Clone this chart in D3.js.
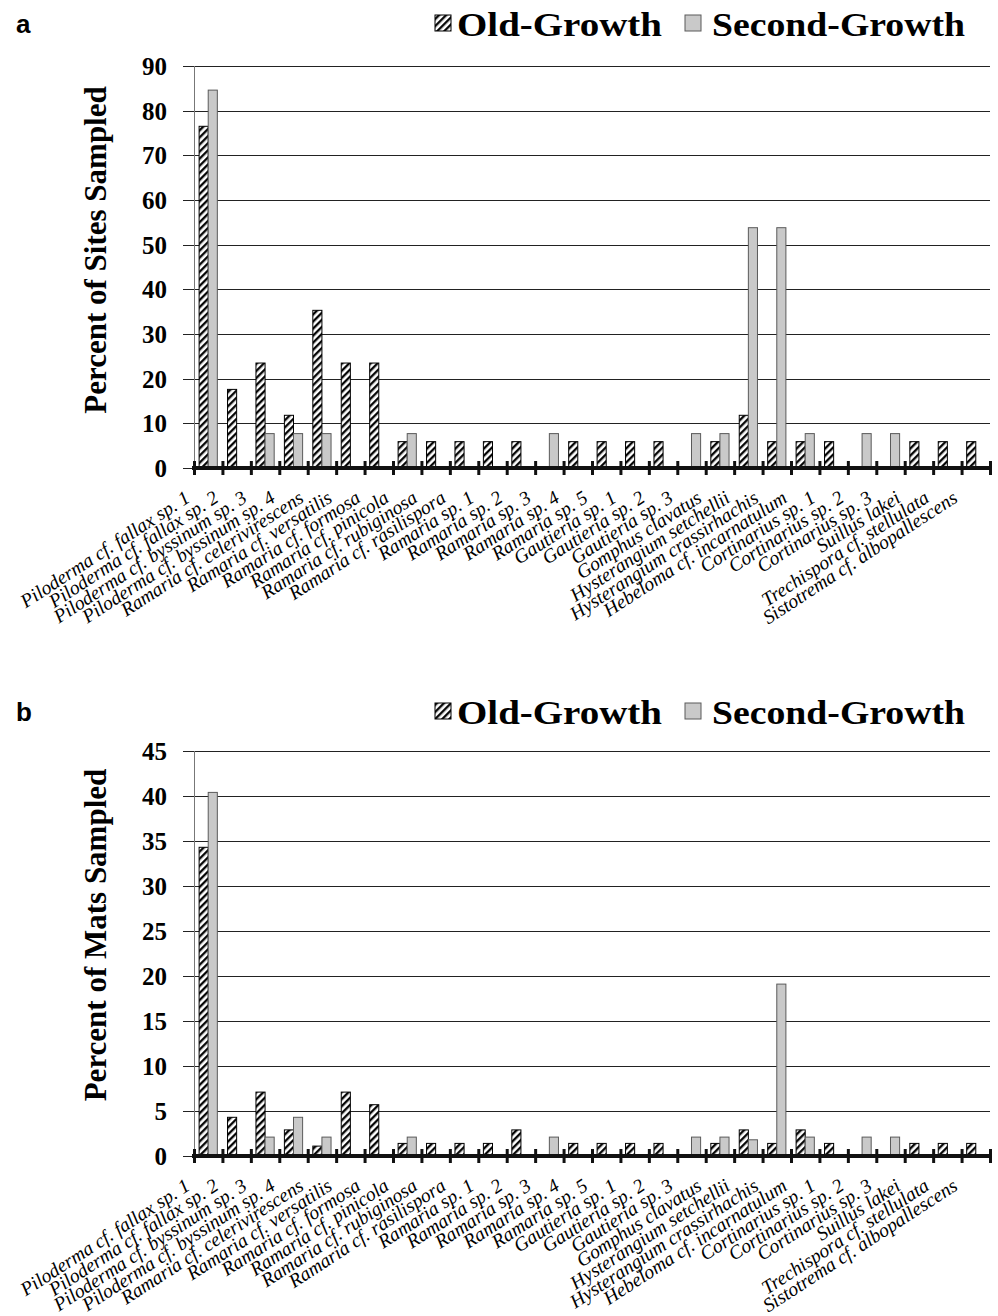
<!DOCTYPE html>
<html>
<head>
<meta charset="utf-8">
<script src="https://cdn.jsdelivr.net/npm/d3@7"></script>
<style>
  body { margin: 0; background: #fff; }
  svg { display: block; }
</style>
</head>
<body>
<script>
const species = [
  'Piloderma cf. fallax sp. 1', 'Piloderma cf. fallax sp. 2', 'Piloderma cf. byssinum sp. 3',
  'Piloderma cf. byssinum sp. 4', 'Ramaria cf. celerivirescens', 'Ramaria cf. versatilis',
  'Ramaria cf. formosa', 'Ramaria cf. pinicola', 'Ramaria cf. rubiginosa', 'Ramaria cf. rasilispora',
  'Ramaria sp. 1', 'Ramaria sp. 2', 'Ramaria sp. 3', 'Ramaria sp. 4', 'Ramaria sp. 5',
  'Gautieria sp. 1', 'Gautieria sp. 2', 'Gautieria sp. 3', 'Gomphus clavatus',
  'Hysterangium setchellii', 'Hysterangium crassirhachis', 'Hebeloma cf. incarnatulum',
  'Cortinarius sp. 1', 'Cortinarius sp. 2', 'Cortinarius sp. 3', 'Suillus lakei',
  'Trechispora cf. stellulata', 'Sistotrema cf. albopallescens'
]

const seriesNames = ['Old-Growth', 'Second-Growth']

// panel a: percent of sites
const oldSites = [76.5, 17.6, 23.5, 11.8, 35.3, 23.5, 23.5, 5.9, 5.9, 5.9, 5.9, 5.9, 0, 5.9, 5.9,
  5.9, 5.9, 0, 5.9, 11.8, 5.9, 5.9, 5.9, 0, 0, 5.9, 5.9, 5.9]
const secondSites = [84.6, 0, 7.7, 7.7, 7.7, 0, 0, 7.7, 0, 0, 0, 0, 7.7, 0, 0,
  0, 0, 7.7, 7.7, 53.8, 53.8, 7.7, 0, 7.7, 7.7, 0, 0, 0]
const sitesTicks = [0, 10, 20, 30, 40, 50, 60, 70, 80, 90]

// panel b: percent of mats
const oldMats = [34.3, 4.3, 7.1, 2.9, 1.1, 7.1, 5.7, 1.4, 1.4, 1.4, 1.4, 2.9, 0, 1.4, 1.4,
  1.4, 1.4, 0, 1.4, 2.9, 1.4, 2.9, 1.4, 0, 0, 1.4, 1.4, 1.4]
const secondMats = [40.4, 0, 2.1, 4.3, 2.1, 0, 0, 2.1, 0, 0, 0, 0, 2.1, 0, 0,
  0, 0, 2.1, 2.1, 1.8, 19.1, 2.1, 0, 2.1, 2.1, 0, 0, 0]
const matsTicks = [0, 5, 10, 15, 20, 25, 30, 35, 40, 45]

const serif = '"Liberation Serif", "Times New Roman", serif'
const left = 194
const right = 990

const svg = d3.select('body').append('svg')
  .attr('width', 998)
  .attr('height', 1316)

// hatch for old-growth
svg.append('defs').append('pattern')
  .attr('id', 'hatch')
  .attr('patternUnits', 'userSpaceOnUse')
  .attr('width', 5)
  .attr('height', 5)
  .attr('patternTransform', 'rotate(45)')
  .call(p => {
    p.append('rect').attr('width', 5).attr('height', 5).attr('fill', '#fff')
    p.append('line').attr('x1', 1.2).attr('x2', 1.2).attr('y1', 0).attr('y2', 5)
      .attr('stroke', '#000').attr('stroke-width', 2.3)
  })

const fills = { old: 'url(#hatch)', second: '#c9c9c9' }
const strokes = { old: '#000', second: '#5a5a5a' }

function drawPanel (cfg) {
  const g = svg.append('g')

  const x = d3.scaleBand().domain(species).range([left, right])
  const x1 = d3.scaleBand().domain(['old', 'second'])
    .range([0, x.bandwidth()]).paddingOuter(0.56)
  const y = d3.scaleLinear().domain([0, d3.max(cfg.ticks)]).range([cfg.bottom, cfg.top])

  // gridlines + tick labels (axis placed at the right so lines run leftwards)
  g.append('g')
    .attr('class', 'y axis')
    .attr('transform', 'translate(' + right + ',0)')
    .call(d3.axisLeft(y).tickValues(cfg.ticks).tickSize(right - 183).tickPadding(16))
    .call(a => a.select('.domain').remove())
    .call(a => a.selectAll('line').attr('stroke', '#222').attr('shape-rendering', 'crispEdges'))
    .call(a => a.selectAll('text')
      .attr('font-family', serif)
      .attr('font-weight', 'bold')
      .attr('font-size', 25)
      .attr('dy', '0.34em')
      .attr('fill', '#000'))

  g.append('line')
    .attr('x1', left).attr('x2', left)
    .attr('y1', cfg.top).attr('y2', cfg.bottom)
    .attr('stroke', '#777')
    .attr('shape-rendering', 'crispEdges')

  // bars
  const rows = species.map((s, i) => ({ s, old: cfg.oldVals[i], second: cfg.secondVals[i] }))
  const groups = g.selectAll('.cat')
    .data(rows)
    .enter().append('g')
    .attr('class', 'cat')
    .attr('transform', d => 'translate(' + x(d.s) + ',0)')

  groups.selectAll('rect')
    .data(d => ['old', 'second'].filter(k => d[k] > 0).map(k => ({ k, v: d[k] })))
    .enter().append('rect')
    .attr('x', d => x1(d.k))
    .attr('y', d => y(d.v))
    .attr('width', x1.bandwidth())
    .attr('height', d => cfg.bottom - y(d.v))
    .attr('fill', d => fills[d.k])
    .attr('stroke', d => strokes[d.k])
    .attr('stroke-width', 1)

  // category labels
  g.append('g')
    .attr('class', 'x axis')
    .attr('transform', 'translate(0,' + cfg.bottom + ')')
    .call(d3.axisBottom(x).tickSize(0))
    .call(a => a.select('.domain').remove())
    .call(a => a.selectAll('text')
      .attr('x', 0).attr('y', 0).attr('dy', 0)
      .attr('text-anchor', 'end')
      .attr('transform', 'translate(-17,33) rotate(-33)')
      .attr('font-family', serif)
      .attr('font-style', 'italic')
      .attr('font-size', 19.5)
      .attr('fill', '#000'))

  // tick marks at category boundaries, crossing the axis
  const xEdge = d3.scaleLinear().domain([0, species.length]).range([left, right])
  g.append('g')
    .attr('transform', 'translate(0,' + (cfg.bottom - 7) + ')')
    .call(d3.axisBottom(xEdge).tickValues(d3.range(species.length + 1)).tickSize(14).tickFormat(''))
    .call(a => a.select('.domain').remove())
    .call(a => a.selectAll('line').attr('stroke', '#111').attr('stroke-width', 3))

  g.append('line')
    .attr('x1', left - 2).attr('x2', right)
    .attr('y1', cfg.bottom).attr('y2', cfg.bottom)
    .attr('stroke', '#111')
    .attr('stroke-width', 4)

  // y title
  g.append('text')
    .attr('transform', 'translate(106,' + cfg.titleY + ') rotate(-90)')
    .attr('text-anchor', 'middle')
    .attr('font-family', serif)
    .attr('font-weight', 'bold')
    .attr('font-size', 31)
    .text(cfg.title)

  // panel letter
  g.append('text')
    .attr('x', 16)
    .attr('y', cfg.legendY - 3)
    .attr('font-family', '"Liberation Sans", Arial, sans-serif')
    .attr('font-weight', 'bold')
    .attr('font-size', 26)
    .text(cfg.letter)

  // legend
  const legend = [
    { k: 'old', name: seriesNames[0], sx: 435, tx: 457, len: 205 },
    { k: 'second', name: seriesNames[1], sx: 685, tx: 712, len: 253 }
  ]
  const lg = g.selectAll('.legend')
    .data(legend)
    .enter().append('g')
    .attr('class', 'legend')

  lg.append('rect')
    .attr('x', d => d.sx)
    .attr('y', cfg.legendY - 21)
    .attr('width', 16)
    .attr('height', 16)
    .attr('fill', d => fills[d.k])
    .attr('stroke', d => strokes[d.k])

  lg.append('text')
    .attr('x', d => d.tx)
    .attr('y', cfg.legendY)
    .attr('textLength', d => d.len)
    .attr('lengthAdjust', 'spacingAndGlyphs')
    .attr('font-family', serif)
    .attr('font-weight', 'bold')
    .attr('font-size', 33)
    .text(d => d.name)
}

drawPanel({
  letter: 'a',
  title: 'Percent of Sites Sampled',
  ticks: sitesTicks,
  top: 66,
  bottom: 468,
  titleY: 250,
  legendY: 36,
  oldVals: oldSites,
  secondVals: secondSites
})

drawPanel({
  letter: 'b',
  title: 'Percent of Mats Sampled',
  ticks: matsTicks,
  top: 751,
  bottom: 1156,
  titleY: 935,
  legendY: 724,
  oldVals: oldMats,
  secondVals: secondMats
})
</script>
</body>
</html>
